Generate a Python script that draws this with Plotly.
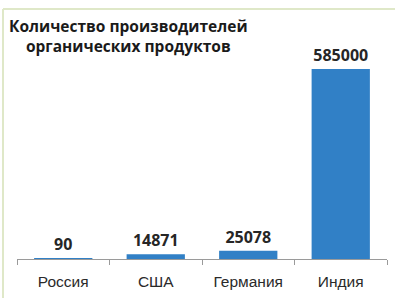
import plotly.graph_objects as go

categories = ["Россия", "США", "Германия", "Индия"]
values = [90, 14871, 25078, 585000]
title_lines = ["Количество производителей", "органических продуктов"]

W, H = 395, 298
ml, mr, mt, mb = 17, 8, 64, 39
pw, ph = W - ml - mr, H - mt - mb

def px_x(x):
    return (x - ml) / pw

def px_y(y):
    return (H - mb - y) / ph

fig = go.Figure(go.Bar(
    x=categories, y=values,
    marker=dict(color="#3180c6", line=dict(width=0)),
    text=[str(v) for v in values],
    textposition="outside",
    textfont=dict(family="Open Sans", size=16, color="#262626", weight="bold"),
    cliponaxis=False,
))

fig.update_layout(
    width=W, height=H,
    margin=dict(l=ml, r=mr, t=mt, b=mb),
    paper_bgcolor="white", plot_bgcolor="white",
    bargap=0.37,
    showlegend=False,
    font=dict(family="Open Sans", color="#333333"),
    xaxis=dict(
        showline=True, linecolor="#9a9a9a", linewidth=1,
        ticks="outside", tickson="boundaries", ticklen=5, tickcolor="#9a9a9a",
        ticklabelstandoff=8,
        tickfont=dict(family="Liberation Sans", size=15.5, color="#2a2a2a"),
        showgrid=False,
    ),
    yaxis=dict(range=[0, 600000], visible=False, showgrid=False),
)

fig.add_annotation(
    xref="paper", yref="paper",
    x=px_x(128), y=px_y(36),
    text="<br>".join(title_lines),
    showarrow=False, align="center",
    font=dict(family="Open Sans", size=15.5, color="#1a1a1a", weight="bold"),
    xanchor="center", yanchor="middle",
)

# frame lines (top and left)
fig.add_shape(type="line", xref="paper", yref="paper",
              x0=px_x(3), x1=px_x(400), y0=px_y(9), y1=px_y(9),
              line=dict(color="#dfe8c8", width=2))
fig.add_shape(type="line", xref="paper", yref="paper",
              x0=px_x(3), x1=px_x(3), y0=px_y(9), y1=px_y(300),
              line=dict(color="#dfe8c8", width=2))

fig.write_html("out.html", config={"displayModeBar": False},
               post_script="document.body.style.margin='0';document.body.style.overflow='hidden';")
